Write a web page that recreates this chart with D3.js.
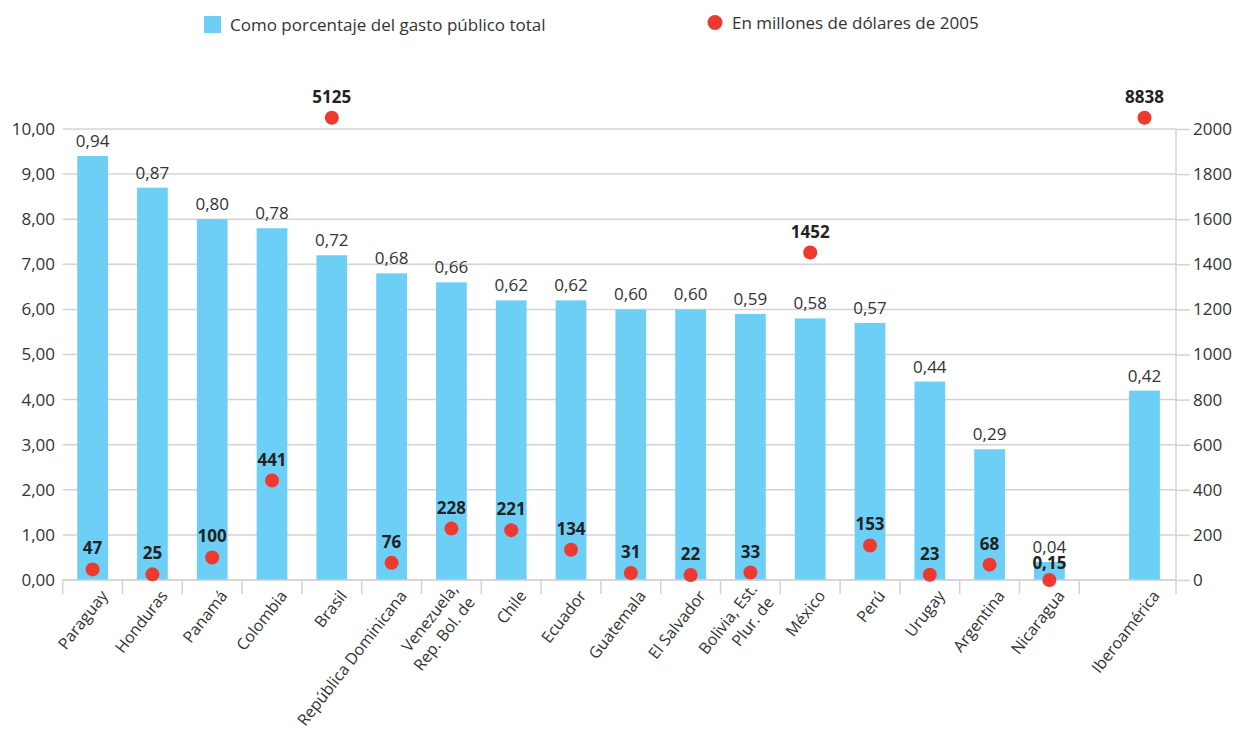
<!DOCTYPE html>
<html>
<head>
<meta charset="utf-8">
<script src="https://cdn.jsdelivr.net/npm/d3@7"></script>
<style>
  html, body { margin: 0; padding: 0; background: #fff; }
  svg { display: block; font-family: "Open Sans", "Noto Sans", sans-serif; }
</style>
</head>
<body>
<svg id="chart" width="1237" height="732"></svg>
<script>
// ---- data ----
const countries = ["Paraguay", "Honduras", "Panamá", "Colombia", "Brasil", "República Dominicana",
  "Venezuela,\nRep. Bol. de", "Chile", "Ecuador", "Guatemala", "El Salvador", "Bolivia, Est.\nPlur. de",
  "México", "Perú", "Urugay", "Argentina", "Nicaragua"];
const aggregate = ["Iberoamérica"];
const pctValues = [0.94, 0.87, 0.80, 0.78, 0.72, 0.68, 0.66, 0.62, 0.62, 0.60, 0.60, 0.59, 0.58, 0.57, 0.44, 0.29, 0.04];
const pctAggregate = [0.42];
const usdValues = [47, 25, 100, 441, 5125, 76, 228, 221, 134, 31, 22, 33, 1452, 153, 23, 68, 0.15];
const usdAggregate = [8838];
const leftTicks = [0, 0.1, 0.2, 0.3, 0.4, 0.5, 0.6, 0.7, 0.8, 0.9, 1.0];
const leftTickLabels = ["0,00", "1,00", "2,00", "3,00", "4,00", "5,00", "6,00", "7,00", "8,00", "9,00", "10,00"];
const rightTicks = [0, 200, 400, 600, 800, 1000, 1200, 1400, 1600, 1800, 2000];
const legendLabels = ["Como porcentaje del gasto público total", "En millones de dólares de 2005"];

// ---- layout ----
const plot = { left: 62.7, right: 1176, top: 129, bottom: 580 };
const barColor = "#6dcff6", dotColor = "#ee3a2e", textColor = "#333333", gridColor = "#d3d3d3";
const fmt = v => v.toFixed(2).replace(".", ",");

const svg = d3.select("#chart");

const xC = d3.scaleBand().domain(countries).range([plot.left, 1079.3]).paddingInner(0.486).paddingOuter(0.243);
const xA = d3.scaleBand().domain(aggregate).range([1114.6, 1174.4]).paddingInner(0.486).paddingOuter(0.243);
const yL = d3.scaleLinear().domain([0, 1]).range([plot.bottom, plot.top]);
const yR = d3.scaleLinear().domain([0, 2000]).range([plot.bottom, plot.top]);
const capMax = 2050;

const rows = countries.map((c, i) => ({ name: c, pct: pctValues[i], usd: usdValues[i], x: xC }))
  .concat(aggregate.map((c, i) => ({ name: c, pct: pctAggregate[i], usd: usdAggregate[i], x: xA })));
const cx = d => d.x(d.name) + d.x.bandwidth() / 2;

// gridlines
svg.append("g").selectAll("line").data(leftTicks).join("line")
  .attr("x1", plot.left).attr("x2", plot.right)
  .attr("y1", d => yL(d)).attr("y2", d => yL(d))
  .attr("stroke", gridColor).attr("stroke-width", 1.5);

// left tick labels
svg.append("g").selectAll("text").data(leftTicks).join("text")
  .attr("x", 55).attr("y", d => yL(d)).attr("dy", "0.35em")
  .attr("text-anchor", "end").attr("font-size", 17).attr("fill", textColor)
  .text((d, i) => leftTickLabels[i]);

// right axis
const rAxis = svg.append("g").attr("transform", `translate(${plot.right},0)`)
  .call(d3.axisRight(yR).tickValues(rightTicks).tickSize(14).tickPadding(3).tickFormat(d3.format("d")));
rAxis.select(".domain").remove();
rAxis.selectAll(".tick line").attr("stroke", gridColor).attr("stroke-width", 1.5);
rAxis.selectAll(".tick text").attr("font-size", 17).attr("fill", textColor).attr("font-family", "Open Sans");
svg.append("line").attr("x1", plot.right).attr("x2", plot.right).attr("y1", plot.top).attr("y2", plot.bottom + 14)
  .attr("stroke", gridColor).attr("stroke-width", 1.5);

// category boundary ticks
const step = xC.step();
const bounds = countries.map(c => xC(c) - (step - xC.bandwidth()) / 2).concat([xC(countries[countries.length - 1]) + xC.bandwidth() + (step - xC.bandwidth()) / 2]);
svg.append("g").selectAll("line").data(bounds).join("line")
  .attr("x1", d => d).attr("x2", d => d).attr("y1", plot.bottom).attr("y2", plot.bottom + 14)
  .attr("stroke", gridColor).attr("stroke-width", 1.5);

// bars
svg.append("g").selectAll("rect").data(rows).join("rect")
  .attr("x", d => d.x(d.name)).attr("width", d => d.x.bandwidth())
  .attr("y", d => yL(d.pct)).attr("height", d => plot.bottom - yL(d.pct))
  .attr("fill", barColor);

// bottom axis line on top of bars
svg.append("line").attr("x1", plot.left).attr("x2", plot.right).attr("y1", plot.bottom).attr("y2", plot.bottom)
  .attr("stroke", gridColor).attr("stroke-width", 1.5);

// bar labels
svg.append("g").selectAll("text").data(rows).join("text")
  .attr("x", cx).attr("y", d => yL(d.pct) - 9)
  .attr("text-anchor", "middle").attr("font-size", 17).attr("fill", textColor)
  .text(d => fmt(d.pct));

// dots
const dotY = d => yR(Math.min(d.usd, capMax));
svg.append("g").selectAll("circle").data(rows).join("circle")
  .attr("cx", cx).attr("cy", dotY).attr("r", 7)
  .attr("fill", dotColor);

// dot labels (label sits closer to the dot when the dot rests on the baseline)
svg.append("g").selectAll("text").data(rows).join("text")
  .attr("x", cx).attr("y", d => dotY(d) - (d.usd < 1 ? 11 : 15))
  .attr("text-anchor", "middle").attr("font-size", 17).attr("font-weight", "bold").attr("fill", "#222")
  .text(d => d.usd < 1 ? fmt(d.usd) : d3.format("d")(d.usd));

// category labels
const lh = 21;
const cat = svg.append("g").selectAll("g").data(rows).join("g")
  .attr("transform", d => `translate(${cx(d) + 16},596) rotate(-52)`);
cat.each(function (d) {
  const lines = d.name.split("\n");
  const t = d3.select(this).append("text").attr("text-anchor", "end").attr("font-size", 16).attr("fill", textColor);
  lines.forEach((l, k) => {
    t.append("tspan").attr("x", 0).attr("y", (k - (lines.length - 1) / 2) * lh).text(l);
  });
});

// legend
const lg = svg.append("g");
lg.append("rect").attr("x", 204).attr("y", 16).attr("width", 17).attr("height", 17).attr("fill", barColor);
lg.append("text").attr("x", 230).attr("y", 31).attr("font-size", 17).attr("fill", textColor).text(legendLabels[0]);
lg.append("circle").attr("cx", 715).attr("cy", 22.5).attr("r", 7.5).attr("fill", dotColor);
lg.append("text").attr("x", 732).attr("y", 28.5).attr("font-size", 17).attr("fill", textColor).text(legendLabels[1]);
</script>
</body>
</html>
